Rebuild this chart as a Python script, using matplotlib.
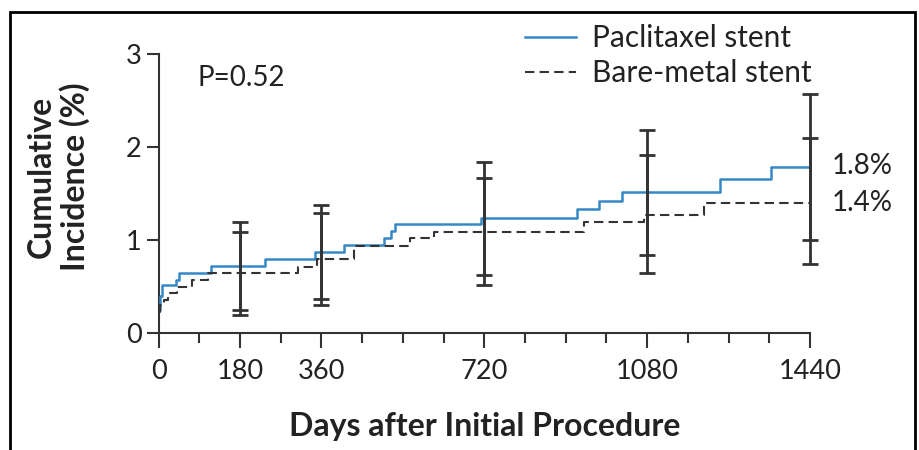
import numpy as np
import matplotlib.pyplot as plt
from matplotlib.patches import Rectangle
from matplotlib.ticker import MultipleLocator

plt.rcParams['font.family'] = ['Lato', 'DejaVu Sans']

# step curves (days, cumulative incidence %)
pac_days = [0, 3, 7, 39, 46, 116, 236, 345, 409, 499, 514, 523, 713, 924, 973, 1025, 1241, 1353, 1440]
pac_vals = [0.25, 0.40, 0.52, 0.57, 0.65, 0.72, 0.80, 0.87, 0.95, 1.02, 1.10, 1.17, 1.24, 1.33, 1.42, 1.52, 1.66, 1.78, 1.78]

bms_days = [0, 4, 12, 22, 40, 75, 109, 309, 351, 432, 555, 610, 940, 1072, 1205, 1440]
bms_vals = [0.23, 0.30, 0.36, 0.43, 0.50, 0.57, 0.64, 0.71, 0.80, 0.94, 1.02, 1.09, 1.19, 1.27, 1.40, 1.40]

# confidence intervals at selected days
ci_days = [180, 360, 720, 1080, 1440]
pac_lo = [0.25, 0.37, 0.62, 0.84, 1.00]
pac_hi = [1.19, 1.38, 1.84, 2.18, 2.57]
bms_lo = [0.19, 0.30, 0.52, 0.65, 0.74]
bms_hi = [1.09, 1.29, 1.67, 1.91, 2.10]

major_ticks = [0, 180, 360, 720, 1080, 1440]
end_labels = ['1.8%', '1.4%']
end_vals = [1.8, 1.4]

blue = '#3488c6'
dark = '#333333'
txt = '#222222'

fig = plt.figure(figsize=(9.19, 4.5), dpi=100)
ax = fig.add_axes([158.5 / 919, 117 / 450, 651.5 / 919, 279 / 450])

ax.step(pac_days, pac_vals, where='post', color=blue, lw=1.8, label='Paclitaxel stent', zorder=3)
ax.step(bms_days, bms_vals, where='post', color=dark, lw=1.5, ls=(0, (4.5, 2.5)), label='Bare-metal stent', zorder=3)

for lo, hi in [(pac_lo, pac_hi), (bms_lo, bms_hi)]:
    mid = [(a + b) / 2 for a, b in zip(lo, hi)]
    err = [[m - a for m, a in zip(mid, lo)], [b - m for m, b in zip(mid, hi)]]
    ax.errorbar(ci_days, mid, yerr=err, fmt='none', ecolor=dark, elinewidth=2,
                capsize=6, capthick=2, zorder=4, clip_on=False)

ax.set_xlim(0, 1440)
ax.set_ylim(0, 3)
ax.set_xticks(major_ticks)
ax.xaxis.set_minor_locator(MultipleLocator(90))
ax.set_yticks([0, 1, 2, 3])
ax.spines['top'].set_visible(False)
ax.spines['right'].set_visible(False)
for s in ['left', 'bottom']:
    ax.spines[s].set_color(dark)
    ax.spines[s].set_linewidth(1.5)
ax.tick_params(axis='x', which='major', length=11, width=1.5, color=dark, labelsize=19.5, pad=8, labelcolor=txt)
ax.tick_params(axis='x', which='minor', length=7, width=1.5, color=dark)
ax.tick_params(axis='y', length=9, width=1.5, color=dark, labelsize=19.5, pad=3, labelcolor=txt)

ax.set_xlabel('Days after Initial Procedure', fontsize=23, fontweight='bold', labelpad=20, color=txt)
ax.set_ylabel('Cumulative\nIncidence (%)', fontsize=23, fontweight='bold', color=txt, linespacing=1.15)
ax.yaxis.set_label_coords(-0.105, 0.56)

ax.text(87, 2.74, 'P=0.52', fontsize=20, color=txt, va='center')
for lab, v in zip(end_labels, end_vals):
    ax.text(1487, v, lab, fontsize=20, color=txt, va='center', clip_on=False)

leg = fig.legend(*ax.get_legend_handles_labels(), loc='upper left', bbox_to_anchor=(525 / 919, 1 - 24 / 450),
                 frameon=False, fontsize=21.5, borderpad=0, borderaxespad=0,
                 handlelength=1.7, handletextpad=0.55, labelspacing=0.25)
for t in leg.get_texts():
    t.set_color(txt)

# outer frame and clipped heading
fig.patches.append(Rectangle((10 / 919, -0.05), 905 / 919, 1.05 - 11.5 / 450, transform=fig.transFigure,
                             fill=False, edgecolor='black', lw=2))
fig.text(108 / 919, 1 + 14 / 450, '(                   )', fontsize=22, fontweight='bold', va='bottom')

fig.savefig('out.png', dpi=100)
